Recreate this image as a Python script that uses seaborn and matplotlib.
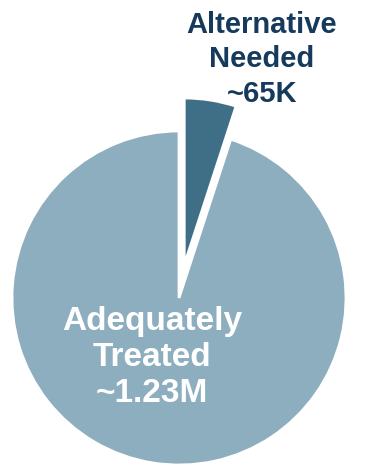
import matplotlib
matplotlib.use("Agg")
import matplotlib.pyplot as plt
import seaborn as sns

# data
labels = ["Alternative\nNeeded\n~65K", "Adequately\nTreated\n~1.23M"]
values = [65000, 1230000]
colors = ["#3e6f86", "#8daebe"]
explode = [0.2, 0]

sns.set_theme(style="white")
plt.rcParams['font.family'] = ['Liberation Sans', 'DejaVu Sans']

fig = plt.figure(figsize=(3.73, 4.68), dpi=100)
ax = fig.add_axes([0, 0, 1, 1])

wedges, _ = ax.pie(values, colors=colors, explode=explode, startangle=90,
                   counterclock=False, radius=1,
                   wedgeprops=dict(edgecolor="white", linewidth=2))

# labels
ax.text(0.497, 1.43, labels[0], ha="center", va="center", fontsize=21,
        fontweight="bold", color="#163a5c", linespacing=1.3)
ax.text(-0.16, -0.355, labels[1], ha="center", va="center", fontsize=24,
        fontweight="bold", color="white", linespacing=1.2)

ax.set_xlim(-179 / 167, (373 - 179) / 167)
ax.set_ylim(-(468 - 298) / 167, 298 / 167)
ax.set_aspect("auto")
ax.axis("off")

fig.savefig("out.png", dpi=100, facecolor="white")
